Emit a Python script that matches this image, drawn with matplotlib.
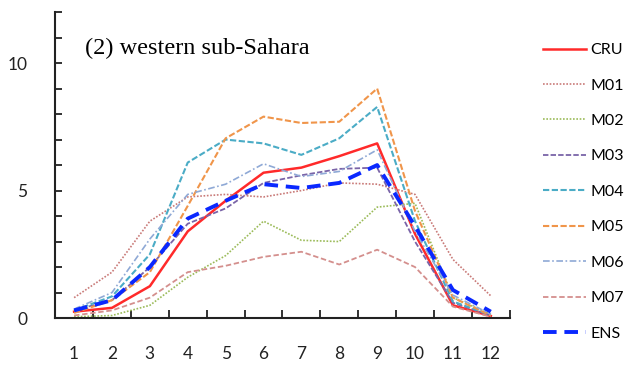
import matplotlib
matplotlib.use("Agg")
import matplotlib.pyplot as plt
from matplotlib.ticker import MultipleLocator, FixedLocator

months = [1, 2, 3, 4, 5, 6, 7, 8, 9, 10, 11, 12]

cru = [0.25, 0.4, 1.25, 3.4, 4.6, 5.7, 5.9, 6.35, 6.85, 3.3, 0.5, 0.08]
m01 = [0.8, 1.8, 3.8, 4.75, 4.85, 4.75, 5.0, 5.3, 5.25, 4.85, 2.3, 0.87]
m02 = [0.05, 0.1, 0.5, 1.6, 2.45, 3.8, 3.05, 3.0, 4.35, 4.5, 0.8, 0.15]
m03 = [0.3, 0.7, 2.0, 3.7, 4.3, 5.3, 5.6, 5.85, 5.9, 3.0, 0.6, 0.1]
m04 = [0.3, 0.85, 2.5, 6.1, 7.0, 6.85, 6.4, 7.05, 8.28, 3.8, 0.65, 0.12]
m05 = [0.2, 0.7, 1.8, 4.4, 7.05, 7.9, 7.65, 7.7, 9.0, 4.2, 0.8, 0.1]
m06 = [0.35, 1.0, 3.1, 4.85, 5.25, 6.05, 5.55, 5.75, 6.6, 3.4, 0.9, 0.15]
m07 = [0.1, 0.3, 0.8, 1.8, 2.05, 2.4, 2.6, 2.1, 2.68, 2.0, 0.45, 0.05]
ens = [0.3, 0.7, 2.0, 3.9, 4.6, 5.25, 5.1, 5.3, 6.0, 3.6, 1.1, 0.25]

series = [
    ("CRU", cru, dict(color="#ff2a2a", lw=1.8, ls="-")),
    ("M01", m01, dict(color="#c97a78", lw=1.2, ls=(0, (1, 1)))),
    ("M02", m02, dict(color="#9bbb59", lw=1.2, ls=(0, (1, 1)))),
    ("M03", m03, dict(color="#7a64a8", lw=1.3, ls=(0, (3, 1.2)))),
    ("M04", m04, dict(color="#4bacc6", lw=1.5, ls=(0, (3, 1.2)))),
    ("M05", m05, dict(color="#f0954a", lw=1.5, ls=(0, (3, 1.2)))),
    ("M06", m06, dict(color="#8fa9d6", lw=1.2, ls=(0, (4, 1.5, 1, 1.5)))),
    ("M07", m07, dict(color="#d48f8d", lw=1.3, ls=(0, (3, 1.5)))),
    ("ENS", ens, dict(color="#0a28ff", lw=2.8, ls=(0, (3.5, 2)))),
]

fig = plt.figure(figsize=(6.34, 3.66), dpi=100)
ax = fig.add_axes([0.087, 0.131, 0.717, 0.836])

handles = []
for name, vals, style in series:
    h, = ax.plot(months, vals, label=name, **style)
    handles.append(h)

ax.set_xlim(0.5, 12.5)
ax.set_ylim(0, 12)

for side in ("top", "right"):
    ax.spines[side].set_visible(False)
for side in ("left", "bottom"):
    ax.spines[side].set_linewidth(1.5)
    ax.spines[side].set_color("#222222")

# x: labels at month centres, tick marks between months
ax.xaxis.set_major_locator(FixedLocator(months))
ax.xaxis.set_minor_locator(MultipleLocator(1, offset=0.5))
ax.tick_params(axis="x", which="major", length=0, pad=20, labelsize=12.5)
ax.tick_params(axis="x", which="minor", direction="in", length=6, width=1.3, color="#222222")

# y: labels every 5, tick marks every 1
ax.yaxis.set_major_locator(FixedLocator([0, 5, 10]))
ax.yaxis.set_minor_locator(MultipleLocator(1))
ax.tick_params(axis="y", which="both", direction="in", length=5, width=1.3, color="#222222")
ax.tick_params(axis="y", which="major", pad=20, labelsize=12.5)

for lab in ax.get_xticklabels() + ax.get_yticklabels():
    lab.set_color("#222222")
    lab.set_family("Lato")

ax.text(0.065, 0.88, "(2) western sub-Sahara", transform=ax.transAxes,
        fontsize=17.5, family="Liberation Serif", ha="left", va="center")

fig.legend(handles=handles, loc="upper left", bbox_to_anchor=(0.846, 0.9),
           frameon=False, prop=dict(family="Lato", size=11.5),
           handlelength=2.7, handletextpad=0.3,
           labelspacing=1.33, borderaxespad=0)

fig.savefig("out.png", dpi=100)
